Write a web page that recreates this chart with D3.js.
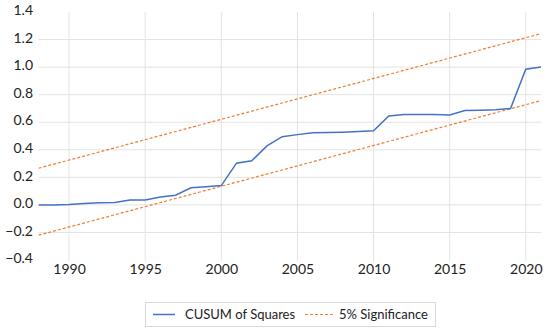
<!DOCTYPE html>
<html><head><meta charset="utf-8">
<script src="https://cdn.jsdelivr.net/npm/d3@7"></script>
<style>body{margin:0;background:#fff}svg{display:block}text{font-family:Lato,"Open Sans",sans-serif}</style>
</head><body><div id="chart"></div>
<script>
const years = [1988,1989,1990,1991,1992,1993,1994,1995,1996,1997,1998,1999,2000,2001,2002,2003,2004,2005,2006,2007,2008,2009,2010,2011,2012,2013,2014,2015,2016,2017,2018,2019,2020,2021];
const cusumSq = [0.0,0.0,0.002,0.01,0.015,0.018,0.035,0.035,0.058,0.07,0.124,0.132,0.14,0.303,0.32,0.428,0.495,0.51,0.523,0.525,0.528,0.532,0.538,0.646,0.656,0.656,0.656,0.653,0.685,0.687,0.69,0.70,0.985,1.0];
const sigYears = [1988, 2021];
const upper = [0.266, 1.243];
const lower = [-0.22, 0.757];
const yTicks = [-0.4,-0.2,0.0,0.2,0.4,0.6,0.8,1.0,1.2,1.4];
const xTicks = [1990,1995,2000,2005,2010,2015,2020];
const legendLabels = ["CUSUM of Squares","5% Significance"];

const W=550,H=331;
const svg=d3.select("#chart").append("svg").attr("width",W).attr("height",H);
const x=d3.scaleLinear().domain([1988,2021]).range([38.6,541]);
const y=d3.scaleLinear().domain([-0.4,1.4]).range([260,12]);

// gridlines
svg.append("g").selectAll("line").data(yTicks.filter(d=>d>-0.4&&d<1.4)).join("line")
  .attr("x1",x(1988)).attr("x2",x(2021)).attr("y1",d=>y(d)).attr("y2",d=>y(d))
  .attr("stroke","#e3e3e3").attr("stroke-width",1);
svg.append("g").selectAll("line").data(xTicks).join("line")
  .attr("x1",d=>x(d)).attr("x2",d=>x(d)).attr("y1",y(1.4)).attr("y2",y(-0.4)+1)
  .attr("stroke","#e3e3e3").attr("stroke-width",1);

// axes (text only)
const yAxis=d3.axisLeft(y).tickValues(yTicks).tickFormat(d3.format(".1f")).tickSize(0).tickPadding(0);
const gy=svg.append("g").attr("transform","translate(33,0)").call(yAxis);
gy.select(".domain").remove();
gy.selectAll("text").attr("font-size",14).attr("fill","#222").attr("font-family","Lato").attr("dy","0.3em");
gy.selectAll(".tick").attr("transform",d=>`translate(0,${y(d)-1})`);

const xAxis=d3.axisBottom(x).tickValues(xTicks).tickFormat(d3.format("d")).tickSize(0).tickPadding(0);
const gx=svg.append("g").attr("transform","translate(0,264)").call(xAxis);
gx.select(".domain").remove();
gx.selectAll("text").attr("font-size",14).attr("fill","#222").attr("font-family","Lato").attr("dy","0.71em");

// lines
const sigLine=d3.line().x((d,i)=>x(sigYears[i])).y(d=>y(d));
[upper,lower].forEach(s=>{
  svg.append("path").attr("d",sigLine(s)).attr("fill","none").attr("stroke","#ED7D31")
    .attr("stroke-width",1.2).attr("stroke-dasharray","3,2");
});
const line=d3.line().x((d,i)=>x(years[i])).y(d=>y(d));
svg.append("path").attr("d",line(cusumSq)).attr("fill","none").attr("stroke","#4472C4").attr("stroke-width",1.5);

// legend
const lg=svg.append("g");
lg.append("rect").attr("x",145.5).attr("y",302.5).attr("width",290).attr("height",24)
  .attr("fill","#fff").attr("stroke","#d9d9d9");
lg.append("line").attr("x1",153).attr("x2",175).attr("y1",314.5).attr("y2",314.5).attr("stroke","#4472C4").attr("stroke-width",1.5);
lg.append("text").attr("x",185).attr("y",314.5).attr("dy","0.35em").attr("font-size",13).attr("fill","#222").text(legendLabels[0]);
lg.append("line").attr("x1",305).attr("x2",333).attr("y1",314.5).attr("y2",314.5).attr("stroke","#ED7D31").attr("stroke-width",1.2).attr("stroke-dasharray","3,2");
lg.append("text").attr("x",339).attr("y",314.5).attr("dy","0.35em").attr("font-size",13).attr("fill","#222").text(legendLabels[1]);
</script></body></html>
